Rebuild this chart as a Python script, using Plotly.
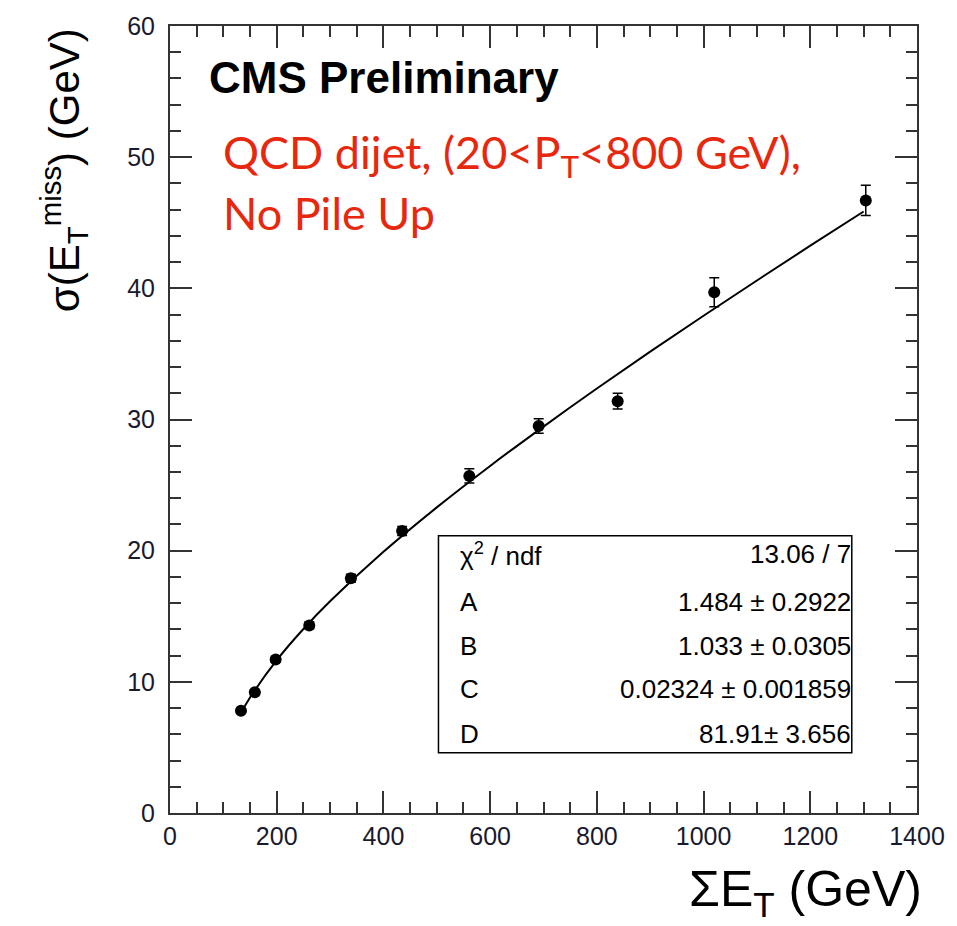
import plotly.graph_objects as go

# Data points
sum_et = [133, 159, 198, 261, 339, 435, 561, 691, 839, 1020, 1304]
sigma_met = [7.8, 9.2, 11.7, 14.3, 17.9, 21.5, 25.7, 29.5, 31.4, 39.7, 46.7]
sigma_err = [0.15, 0.15, 0.2, 0.25, 0.3, 0.35, 0.55, 0.55, 0.6, 1.1, 1.15]

# Fit curve values
fit_x = [133, 150, 200, 250, 300, 400, 500, 600, 700, 800, 900, 1000, 1100, 1200, 1300]
fit_y = [7.62, 8.80, 11.65, 14.03, 16.14, 19.91, 23.30, 26.46, 29.46, 32.36, 35.17, 37.91, 40.60, 43.25, 45.86]

# Fit statistics box
stat_names = ["χ<sup>2</sup> / ndf", "A", "B", "C", "D"]
stat_values = ["13.06 / 7", "1.484 ± 0.2922", "1.033 ± 0.0305", "0.02324 ± 0.001859", "81.91± 3.656"]

x_ticks = [0, 200, 400, 600, 800, 1000, 1200, 1400]
y_ticks = [0, 10, 20, 30, 40, 50, 60]

fig = go.Figure()
fig.add_trace(go.Scatter(x=fit_x, y=fit_y, mode="lines", line=dict(color="black", width=2, shape="spline"),
                         hoverinfo="skip", showlegend=False))
fig.add_trace(go.Scatter(x=sum_et, y=sigma_met, mode="markers",
                         marker=dict(color="black", size=12),
                         error_y=dict(type="data", array=sigma_err, color="black", thickness=1.5, width=5),
                         showlegend=False))

axis_common = dict(showline=True, linecolor="#333", linewidth=2, mirror="ticks", ticks="inside",
                   tickcolor="#333", tickwidth=2, ticklen=22, showgrid=False, zeroline=False,
                   tickfont=dict(family="Liberation Sans, Arial", size=25, color="#1a1a2e"))

fig.update_xaxes(range=[0, 1400], tickvals=x_ticks, ticktext=[str(v) for v in x_ticks],
                 minor=dict(ticks="inside", dtick=50, tick0=0, ticklen=11, tickcolor="#333", tickwidth=2, showgrid=False),
                 **axis_common)
fig.update_yaxes(range=[0, 60], tickvals=y_ticks, ticktext=[str(v) for v in y_ticks],
                 minor=dict(ticks="inside", dtick=2, tick0=0, ticklen=11, tickcolor="#333", tickwidth=2, showgrid=False),
                 ticklabelstandoff=8, **axis_common)

annotations = [
    dict(text="<b>CMS Preliminary</b>", x=0.05, y=0.934, xref="paper", yref="paper", xanchor="left", yanchor="middle",
         showarrow=False, font=dict(family="Liberation Sans, Arial", size=44, color="black")),
    dict(text="QCD dijet, (20<P<sub>T</sub><800 GeV),", x=0.068, y=0.836, xref="paper", yref="paper",
         xanchor="left", yanchor="middle", showarrow=False,
         font=dict(family="Lato, Noto Sans", size=45, color="#e8280e")),
    dict(text="No Pile Up", x=0.068, y=0.762, xref="paper", yref="paper",
         xanchor="left", yanchor="middle", showarrow=False,
         font=dict(family="Lato, Noto Sans", size=45, color="#e8280e")),
    dict(text="σ(E<sub>T</sub><sup>miss</sup>) (GeV)", x=-0.143, y=1.0, xref="paper", yref="paper",
         xanchor="center", yanchor="top", textangle=-90, showarrow=False,
         font=dict(family="Liberation Sans, Arial", size=42, color="black")),
    dict(text="ΣE<sub>T</sub> (GeV)", x=1.01, y=-0.058, xref="paper", yref="paper",
         xanchor="right", yanchor="top", showarrow=False,
         font=dict(family="Liberation Sans, Arial", size=50, color="black")),
]

# stats box rows
row_y = [0.329, 0.268, 0.212, 0.158, 0.101]
for name, val, ry in zip(stat_names, stat_values, row_y):
    annotations.append(dict(text=name, x=0.385, y=ry, xref="paper", yref="paper", xanchor="left", yanchor="middle",
                            showarrow=False, font=dict(family="Liberation Sans, Arial", size=26, color="black")))
    annotations.append(dict(text=val, x=0.914, y=ry, xref="paper", yref="paper", xanchor="right", yanchor="middle",
                            showarrow=False, font=dict(family="Liberation Sans, Arial", size=26, color="black")))

fig.add_shape(type="rect", xref="paper", yref="paper", x0=0.3594, x1=0.9127, y0=0.0767, y1=0.3522,
              line=dict(color="black", width=1.5), fillcolor="white", layer="below")

fig.update_layout(width=957, height=926, margin=dict(l=170, r=31, t=18, b=113),
                  paper_bgcolor="white", plot_bgcolor="white", annotations=annotations)

fig.write_html("out.html")
